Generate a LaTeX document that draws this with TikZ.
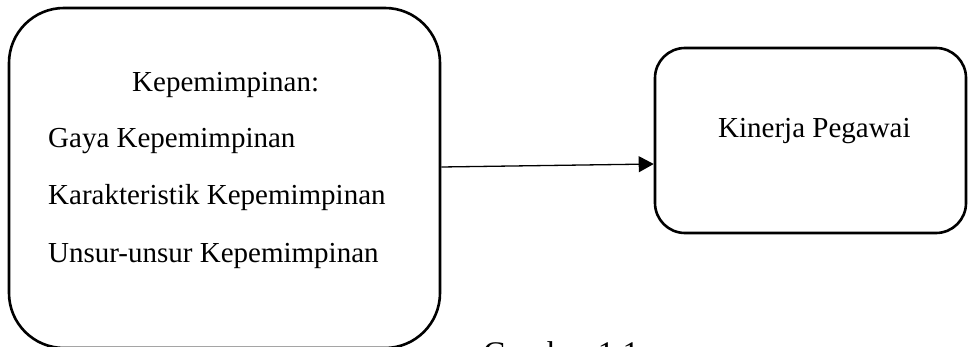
\documentclass[tikz,border=0pt]{standalone}
\usepackage{fontspec}
\setmainfont{Liberation Serif}
\usetikzlibrary{arrows.meta}
\begin{document}
\begin{tikzpicture}[x=1pt,y=-1pt,
  box/.style={draw=black, line width=2.6pt, fill=none, inner sep=0pt},
  lbl/.style={inner sep=0pt, anchor=base west, font=\fontsize{29}{34}\selectfont},
  link/.style={line width=1.3pt, -{Triangle[length=15pt,width=16pt]}}]
  \useasboundingbox (0,0) rectangle (968,347);
  % left box: leadership factors
  \node[box, rounded corners=55pt, minimum width=431pt, minimum height=340pt]
    (lead) at (224.5,178) {};
  \node[lbl] (leadtitle) at (132,92) {Kepemimpinan:};
  \node[lbl] (gaya) at (48,148) {Gaya Kepemimpinan};
  \node[lbl] (karak) at (48,205) {Karakteristik Kepemimpinan};
  \node[lbl] (unsur) at (48,262) {Unsur-unsur Kepemimpinan};
  % right box: employee performance
  \node[box, rounded corners=30pt, minimum width=311pt, minimum height=185pt]
    (kinerja) at (810.5,140.5) {};
  \node[lbl] (kinerjatext) at (718,138) {Kinerja Pegawai};
  % connector
  \draw[link] ([yshift=11pt]lead.east) -- ([yshift=-23.5pt]kinerja.west);
  % caption
  \node[inner sep=0pt, anchor=base west, font=\fontsize{33}{38}\selectfont]
    (caption) at (483,364) {Gambar 1.1};
\end{tikzpicture}
\end{document}
